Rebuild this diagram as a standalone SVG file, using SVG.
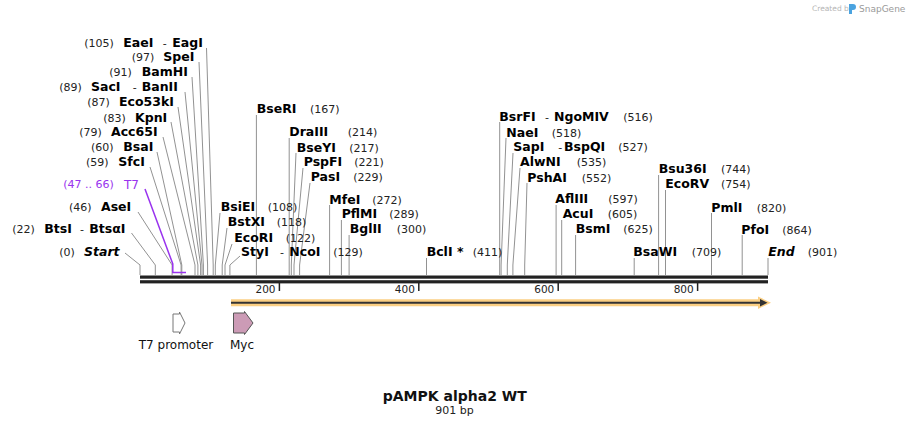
<svg xmlns="http://www.w3.org/2000/svg" width="909" height="426" viewBox="0 0 909 426">
<style>
.n{font-family:"DejaVu Sans",Verdana,sans-serif;font-size:12.5px;font-weight:bold;fill:#000}
.i{font-style:italic}
.p{font-family:"DejaVu Sans",Verdana,sans-serif;font-size:11px;fill:#222}
.d{font-family:"DejaVu Sans",Verdana,sans-serif;font-size:11px;fill:#222}
.ld{stroke:#929292;stroke-width:1;fill:none}
.tk{stroke:#222;stroke-width:1.5}
.tl{font-family:"DejaVu Sans",Verdana,sans-serif;font-size:10.5px;fill:#222;text-anchor:end}
.fl{font-family:"DejaVu Sans",Verdana,sans-serif;font-size:12px;fill:#111}
.pur{fill:#9933ee}
</style>
<rect width="909" height="426" fill="#fff"/>

<g id="credit">
<text x="812" y="11" style="font-family:'DejaVu Sans',sans-serif;font-size:7.5px;fill:#b5b5b5">Created by</text>
<path d="M849,4 h4 a3,3 0 0 1 0,6 h-1 v4 h-3 z" fill="#4aa3e0"/>
<text x="859" y="11.5" style="font-family:'DejaVu Sans',sans-serif;font-size:9px;fill:#9a9a9a">SnapGene</text>
</g>

<g id="connectors">
<path class="ld" d="M125,253 L140,265 V275"/>
<path class="ld" d="M131.5,233 L155.3,265 V275"/>
<path class="ld" d="M138,212 L172.1,265 V275"/>
<path class="ld" d="M150,167 L181.1,265 V275"/>
<path class="ld" d="M157,152 L181.8,265 V275"/>
<path class="ld" d="M163,137 L195,265 V275"/>
<path class="ld" d="M171,122 L197.9,265 V275"/>
<path class="ld" d="M178,107 L200.6,265 V275"/>
<path class="ld" d="M185,92 L202,265 V275"/>
<path class="ld" d="M192,77 L203.4,265 V275"/>
<path class="ld" d="M199,62 L207.6,265 V275"/>
<path class="ld" d="M206.5,48 L213.2,265 V275"/>
<path class="ld" d="M220,213 L215.3,265 V275"/>
<path class="ld" d="M227,228 L222.2,265 V275"/>
<path class="ld" d="M232,244 L225,265 V275"/>
<path class="ld" d="M240,256 L229.9,265 V275"/>
<path class="ld" d="M256.4,115 V275"/>
<path class="ld" d="M289.2,138 V275"/>
<path class="ld" d="M296,153 L291.3,265 V275"/>
<path class="ld" d="M303,168 L294,265 V275"/>
<path class="ld" d="M310,183 L299.6,265 V275"/>
<path class="ld" d="M329.6,205 V275"/>
<path class="ld" d="M341.4,220 V275"/>
<path class="ld" d="M349.1,235 V275"/>
<path class="ld" d="M426.5,258 V275"/>
<path class="ld" d="M499.7,122 V275"/>
<path class="ld" d="M506,138 L501.1,265 V275"/>
<path class="ld" d="M513,153 L507.3,265 V275"/>
<path class="ld" d="M520,168 L512.9,265 V275"/>
<path class="ld" d="M527,183 L524.7,265 V275"/>
<path class="ld" d="M556.1,205 V275"/>
<path class="ld" d="M561.7,220 V275"/>
<path class="ld" d="M575.6,235 V275"/>
<path class="ld" d="M634.2,258 V275"/>
<path class="ld" d="M658.6,175 V275"/>
<path class="ld" d="M665.5,190 V275"/>
<path class="ld" d="M711.5,213 V275"/>
<path class="ld" d="M742.2,235 V275"/>
<path class="ld" d="M768,258 V275"/>
<path d="M145,189 L172.8,264 V272.5 H186" fill="none" stroke="#9933ee" stroke-width="1.5"/>
</g>

<g id="backbone">
<rect x="140" y="275.5" width="628" height="3.2" fill="#222"/>
<rect x="140" y="280.2" width="628" height="3.2" fill="#222"/>
<line class="tk" x1="279.4" y1="283" x2="279.4" y2="291"/>
<line class="tk" x1="418.8" y1="283" x2="418.8" y2="291"/>
<line class="tk" x1="558.2" y1="283" x2="558.2" y2="291"/>
<line class="tk" x1="697.6" y1="283" x2="697.6" y2="291"/>
<text class="tl" x="275.5" y="293">200</text>
<text class="tl" x="414.9" y="293">400</text>
<text class="tl" x="554.3" y="293">600</text>
<text class="tl" x="693.7" y="293">800</text>
</g>

<g id="orf">
<line x1="231" y1="302.7" x2="762" y2="302.7" stroke="#fbcf83" stroke-width="7"/>
<polygon points="758,296.5 771,302.7 758,309" fill="#fbcf83"/>
<line x1="231" y1="302.7" x2="761" y2="302.7" stroke="#333" stroke-width="2"/>
<polygon points="760,299 767.5,302.7 760,306.4" fill="#333"/>
</g>

<g id="feature-T7promoter">
<polygon points="173,314 179.5,314 179.5,312 185,323 179.5,334 179.5,332 173,332" fill="#fff" stroke="#777" stroke-width="1"/>
<text class="fl" x="176" y="349" text-anchor="middle">T7 promoter</text>
</g>
<g id="feature-Myc">
<polygon points="233.5,313 244.5,313 244.5,311.5 253,323 244.5,334.5 244.5,333 233.5,333" fill="#cc9bb6" stroke="#555" stroke-width="1"/>
<text class="fl" x="242" y="349" text-anchor="middle">Myc</text>
</g>

<g id="site-EaeI"><text class="p" x="84.3" y="46.6">(105)</text><text class="n" x="123.3" y="46.6">EaeI</text><text class="d" x="162.7" y="46.6">-</text><text class="n" x="172.3" y="46.6">EagI</text></g>
<g id="site-SpeI"><text class="p" x="131.7" y="61">(97)</text><text class="n" x="163.3" y="61">SpeI</text></g>
<g id="site-BamHI"><text class="p" x="109.3" y="76">(91)</text><text class="n" x="141.7" y="76">BamHI</text></g>
<g id="site-SacI"><text class="p" x="59.3" y="91">(89)</text><text class="n" x="91" y="91">SacI</text><text class="d" x="132.7" y="91">-</text><text class="n" x="141.7" y="91">BanII</text></g>
<g id="site-Eco53kI"><text class="p" x="87.3" y="106">(87)</text><text class="n" x="119" y="106">Eco53kI</text></g>
<g id="site-KpnI"><text class="p" x="103.3" y="121.6">(83)</text><text class="n" x="135" y="121.6">KpnI</text></g>
<g id="site-Acc65I"><text class="p" x="79.3" y="136">(79)</text><text class="n" x="111" y="136">Acc65I</text></g>
<g id="site-BsaI"><text class="p" x="91" y="151">(60)</text><text class="n" x="123.3" y="151">BsaI</text></g>
<g id="site-SfcI"><text class="p" x="86" y="165.8">(59)</text><text class="n" x="118.3" y="165.8">SfcI</text></g>
<g id="feature-T7"><text class="p pur" x="63.3" y="188.3" style="fill:#9933ee">(47 .. 66)</text><text x="124" y="188.5" style="font-family:'DejaVu Sans',sans-serif;font-size:12px;fill:#9933ee">T7</text></g>
<g id="site-AseI"><text class="p" x="69" y="211">(46)</text><text class="n" x="101" y="211">AseI</text></g>
<g id="site-BtsI"><text class="p" x="12.3" y="233.3">(22)</text><text class="n" x="44.3" y="233.3">BtsI</text><text class="d" x="80" y="233.3">-</text><text class="n" x="89.3" y="233.3">BtsαI</text></g>
<g id="site-Start"><text class="p" x="59.3" y="255.6">(0)</text><text class="n i" x="84" y="255.6">Start</text></g>

<g id="site-BsiEI"><text class="n" x="220.7" y="211">BsiEI</text><text class="p" x="267.7" y="211">(108)</text></g>
<g id="site-BstXI"><text class="n" x="227.7" y="226">BstXI</text><text class="p" x="276.7" y="226">(118)</text></g>
<g id="site-EcoRI"><text class="n" x="234.3" y="241.6">EcoRI</text><text class="p" x="285.7" y="241.6">(122)</text></g>
<g id="site-StyI"><text class="n" x="241" y="256">StyI</text><text class="d" x="280" y="256">-</text><text class="n" x="289.3" y="256">NcoI</text><text class="p" x="333.3" y="256">(129)</text></g>
<g id="site-BseRI"><text class="n" x="256.7" y="113.3">BseRI</text><text class="p" x="310" y="113.3">(167)</text></g>
<g id="site-DraIII"><text class="n" x="289.3" y="136">DraIII</text><text class="p" x="347.7" y="136">(214)</text></g>
<g id="site-BseYI"><text class="n" x="296.7" y="151.6">BseYI</text><text class="p" x="349.3" y="151.6">(217)</text></g>
<g id="site-PspFI"><text class="n" x="303.7" y="166.3">PspFI</text><text class="p" x="354.3" y="166.3">(221)</text></g>
<g id="site-PasI"><text class="n" x="310.7" y="181">PasI</text><text class="p" x="353.3" y="181">(229)</text></g>
<g id="site-MfeI"><text class="n" x="329.3" y="203.6">MfeI</text><text class="p" x="372.3" y="203.6">(272)</text></g>
<g id="site-PflMI"><text class="n" x="341.7" y="218">PflMI</text><text class="p" x="389.3" y="218">(289)</text></g>
<g id="site-BglII"><text class="n" x="349.7" y="233.3">BglII</text><text class="p" x="396.7" y="233.3">(300)</text></g>
<g id="site-BclI"><text class="n" x="426.7" y="256.3">BclI *</text><text class="p" x="472.7" y="256.3">(411)</text></g>
<g id="site-BsrFI"><text class="n" x="499.3" y="121">BsrFI</text><text class="d" x="545" y="121">-</text><text class="n" x="554" y="121">NgoMIV</text><text class="p" x="623.3" y="121">(516)</text></g>
<g id="site-NaeI"><text class="n" x="506.3" y="136.6">NaeI</text><text class="p" x="551.7" y="136.6">(518)</text></g>
<g id="site-SapI"><text class="n" x="513.3" y="151">SapI</text><text class="d" x="558.3" y="151">-</text><text class="n" x="564" y="151">BspQI</text><text class="p" x="618.3" y="151">(527)</text></g>
<g id="site-AlwNI"><text class="n" x="520" y="166.3">AlwNI</text><text class="p" x="576.7" y="166.3">(535)</text></g>
<g id="site-PshAI"><text class="n" x="527.3" y="181.6">PshAI</text><text class="p" x="581.7" y="181.6">(552)</text></g>
<g id="site-AflIII"><text class="n" x="555.3" y="203.3">AflIII</text><text class="p" x="608.3" y="203.3">(597)</text></g>
<g id="site-AcuI"><text class="n" x="562.7" y="218.3">AcuI</text><text class="p" x="607.7" y="218.3">(605)</text></g>
<g id="site-BsmI"><text class="n" x="575.7" y="233.3">BsmI</text><text class="p" x="623.3" y="233.3">(625)</text></g>
<g id="site-BsaWI"><text class="n" x="633.3" y="256">BsaWI</text><text class="p" x="691.7" y="256">(709)</text></g>
<g id="site-Bsu36I"><text class="n" x="658.7" y="173.3">Bsu36I</text><text class="p" x="721" y="173.3">(744)</text></g>
<g id="site-EcoRV"><text class="n" x="665.3" y="188.3">EcoRV</text><text class="p" x="721" y="188.3">(754)</text></g>
<g id="site-PmlI"><text class="n" x="711.3" y="211.6">PmlI</text><text class="p" x="756.7" y="211.6">(820)</text></g>
<g id="site-PfoI"><text class="n" x="741.3" y="233.6">PfoI</text><text class="p" x="782.3" y="233.6">(864)</text></g>
<g id="site-End"><text class="n i" x="768.3" y="256.3">End</text><text class="p" x="807.7" y="256.3">(901)</text></g>

<g id="title">
<text x="454.8" y="401" text-anchor="middle" style="font-family:'DejaVu Sans',Verdana,sans-serif;font-size:14px;font-weight:bold;fill:#111">pAMPK alpha2 WT</text>
<text x="454.5" y="414" text-anchor="middle" style="font-family:'DejaVu Sans',Verdana,sans-serif;font-size:11px;fill:#222">901 bp</text>
</g>
</svg>
